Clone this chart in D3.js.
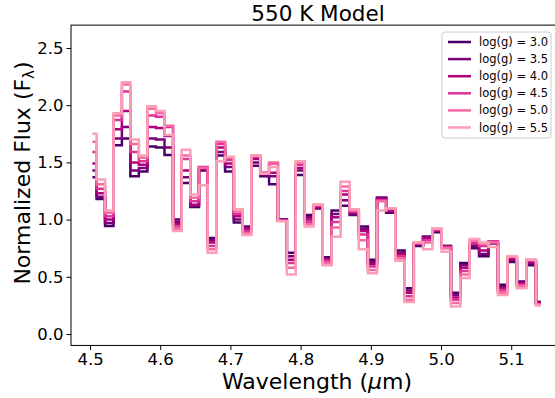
<!DOCTYPE html>
<html><head><meta charset="utf-8">
<script src="https://cdn.jsdelivr.net/npm/d3@7"></script>
<style>body{margin:0;background:#fff} svg{display:block} text{font-family:"DejaVu Sans",sans-serif;fill:#000}</style>
</head><body><svg id="c" width="555" height="398"></svg>
<script>
const wavelengths = [4.5034,4.5154,4.5274,4.5394,4.5514,4.5635,4.5756,4.5878,4.6000,4.6122,4.6244,4.6367,4.6490,4.6614,4.6738,4.6862,4.6986,4.7111,4.7236,4.7362,4.7487,4.7614,4.7740,4.7867,4.7994,4.8121,4.8249,4.8377,4.8506,4.8635,4.8764,4.8893,4.9023,4.9153,4.9284,4.9415,4.9546,4.9678,4.9810,4.9942,5.0075,5.0208,5.0341,5.0475,5.0609,5.0743,5.0878,5.1013,5.1148,5.1284,5.1420];
const logg30 = [1.37,1.18,0.945,1.65,1.71,1.38,1.42,1.64,1.63,1.565,1.00,1.32,1.11,1.43,0.84,1.56,1.42,0.975,0.94,1.47,1.38,1.31,1.00,0.71,1.39,1.04,1.10,0.67,1.08,1.12,1.04,0.94,0.65,1.19,1.06,0.73,0.40,0.77,0.85,0.89,0.77,0.36,0.62,0.75,0.68,0.79,0.43,0.63,0.46,0.60,0.28];
const logg35 = [1.43,1.20,0.97,1.71,1.81,1.43,1.45,1.71,1.70,1.63,0.98,1.37,1.12,1.44,0.82,1.59,1.46,1.00,0.93,1.50,1.39,1.38,1.00,0.68,1.43,1.02,1.10,0.66,1.05,1.17,1.05,0.92,0.63,1.19,1.07,0.71,0.38,0.78,0.85,0.90,0.77,0.34,0.60,0.77,0.70,0.80,0.41,0.65,0.45,0.62,0.28];
const logg40 = [1.49,1.23,1.00,1.79,1.95,1.50,1.48,1.81,1.80,1.73,0.96,1.43,1.13,1.45,0.80,1.63,1.49,1.03,0.92,1.53,1.40,1.41,0.995,0.65,1.45,1.00,1.11,0.65,1.02,1.22,1.06,0.90,0.61,1.18,1.08,0.70,0.36,0.79,0.84,0.91,0.76,0.32,0.58,0.79,0.73,0.80,0.40,0.66,0.44,0.63,0.27];
const logg45 = [1.59,1.27,1.03,1.87,2.12,1.59,1.51,1.91,1.90,1.81,0.94,1.53,1.16,1.46,0.77,1.66,1.52,1.05,0.90,1.55,1.41,1.49,0.99,0.62,1.48,0.98,1.12,0.64,0.98,1.25,1.07,0.87,0.59,1.17,1.09,0.68,0.33,0.79,0.82,0.91,0.76,0.30,0.55,0.80,0.77,0.81,0.38,0.67,0.43,0.64,0.26];
const logg50 = [1.68,1.31,1.06,1.91,2.18,1.66,1.54,1.97,1.93,1.82,0.92,1.56,1.19,1.45,0.74,1.68,1.54,1.07,0.88,1.56,1.41,1.50,0.99,0.58,1.50,0.96,1.13,0.62,0.93,1.29,1.08,0.82,0.56,1.16,1.10,0.66,0.30,0.80,0.80,0.92,0.75,0.27,0.52,0.82,0.79,0.80,0.36,0.68,0.42,0.65,0.26];
const logg55 = [1.75,1.35,1.08,1.93,2.20,1.70,1.56,1.99,1.95,1.74,0.90,1.61,1.22,1.30,0.71,1.51,1.55,1.09,0.865,1.56,1.40,1.46,0.985,0.52,1.51,0.94,1.13,0.60,0.85,1.33,1.09,0.74,0.53,1.08,1.10,0.64,0.28,0.80,0.74,0.92,0.72,0.24,0.49,0.83,0.80,0.76,0.34,0.68,0.40,0.65,0.25];
const seriesNames = ["log(g) = 3.0","log(g) = 3.5","log(g) = 4.0","log(g) = 4.5","log(g) = 5.0","log(g) = 5.5"];
const seriesValues = [logg30,logg35,logg40,logg45,logg50,logg55];
const colors = ["#49006a","#7a0177","#ae017e","#dd3497","#f768a1","#fa9fb5"];
const xTicks = [4.5,4.6,4.7,4.8,4.9,5.0,5.1];
const yTicks = [0.0,0.5,1.0,1.5,2.0,2.5];

const svg = d3.select("#c");
const x = d3.scaleLinear().domain([4.4729,5.1739]).range([71,563.1]);
const y = d3.scaleLinear().domain([-0.1,2.7]).range([345.44,25.12]);

const line = d3.line().x(d=>x(d[0])).y(d=>y(d[1])).curve(d3.curveStep);
seriesValues.forEach((vals,i)=>{
  svg.append("path").datum(wavelengths.map((w,j)=>[w,vals[j]]))
    .attr("d",line).attr("fill","none").attr("stroke",colors[i])
    .attr("stroke-width",2.5).attr("stroke-linejoin","miter");
});

const xAxis = d3.axisBottom(x).tickValues(xTicks).tickFormat(d3.format(".1f")).tickSize(4.5).tickPadding(3);
const gx = svg.append("g").attr("transform",`translate(0,${y.range()[0]})`).call(xAxis);
const yAxis = d3.axisLeft(y).tickValues(yTicks).tickFormat(d3.format(".1f")).tickSize(4.5).tickPadding(3);
const gy = svg.append("g").attr("transform",`translate(${x.range()[0]},0)`).call(yAxis);
[gx,gy].forEach(g=>{
  g.selectAll("path.domain").remove();
  g.selectAll("line").attr("stroke","#000").attr("stroke-width",1);
  g.selectAll("text").attr("font-size",16.5).attr("font-family","DejaVu Sans");
});
svg.append("rect").attr("x",x.range()[0]).attr("y",y.range()[1])
  .attr("width",x.range()[1]-x.range()[0]).attr("height",y.range()[0]-y.range()[1])
  .attr("fill","none").attr("stroke","#000").attr("stroke-width",1);

svg.append("text").attr("x",318).attr("y",21).attr("text-anchor","middle")
  .attr("font-size",21.5).text("550 K Model");
svg.append("text").attr("x",317).attr("y",389).attr("text-anchor","middle")
  .attr("font-size",22).html("Wavelength (<tspan font-style='italic'>μ</tspan>m)");
const yl = svg.append("text").attr("transform","translate(30,173) rotate(-90)")
  .attr("text-anchor","middle").attr("font-size",22);
yl.append("tspan").text("Normalized Flux (F");
yl.append("tspan").attr("font-size",15).attr("dy",4).text("λ");
yl.append("tspan").attr("dy",-4).text(")");

const lg = svg.append("g");
lg.append("rect").attr("x",442).attr("y",32).attr("width",109).attr("height",106).attr("rx",3)
  .attr("fill","#fff").attr("fill-opacity",0.8).attr("stroke","#cccccc").attr("stroke-width",1);
seriesNames.forEach((n,i)=>{
  const yy = 42 + i*17.1;
  lg.append("line").attr("x1",448).attr("x2",471).attr("y1",yy).attr("y2",yy)
    .attr("stroke",colors[i]).attr("stroke-width",2.5);
  lg.append("text").attr("x",479).attr("y",yy+4).attr("font-size",11.5).text(n);
});
</script></body></html>
